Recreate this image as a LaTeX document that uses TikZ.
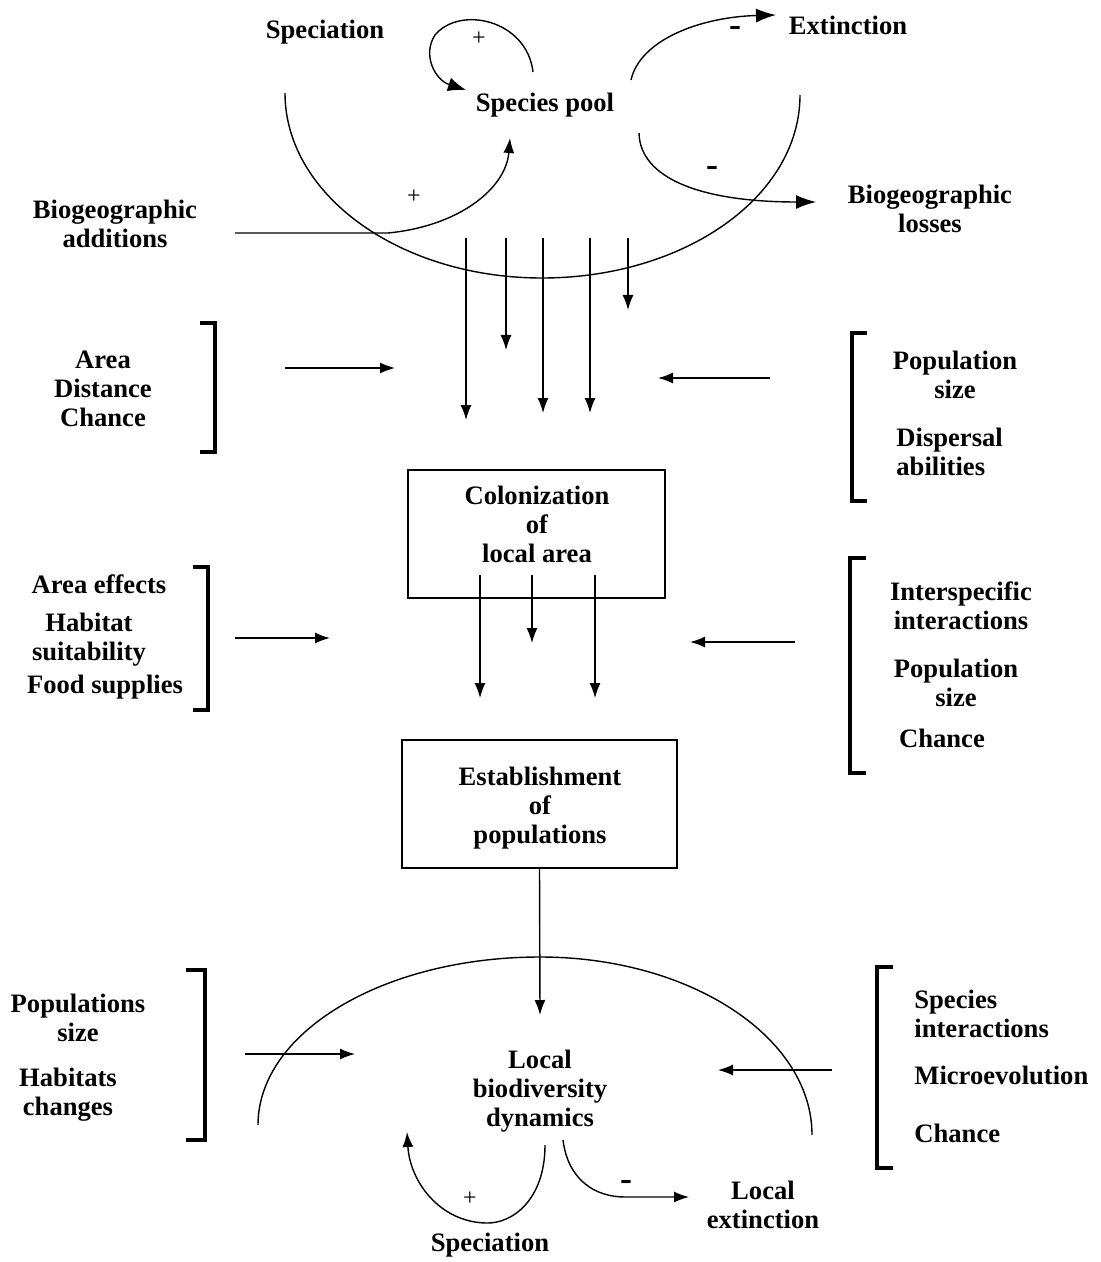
\documentclass[tikz,border=0pt]{standalone}
\usepackage{fontspec}
\setmainfont{Liberation Serif}
\usetikzlibrary{arrows.meta}

\begin{document}
\begin{tikzpicture}[x=0.5pt, y=-0.5pt, >={Latex[length=7.5pt, width=5.5pt]},
  lbl/.style={font=\bfseries\fontsize{13.3}{14.5}\selectfont, align=center, inner sep=0pt},
  sgn/.style={font=\fontsize{12}{12}\selectfont, inner sep=0pt},
  neg/.style={font=\bfseries\fontsize{18}{18}\selectfont, inner sep=0pt},
  brk/.style={line width=1.6pt},
  box/.style={draw, line width=0.8pt, inner sep=0pt},
  flow/.style={line width=0.7pt},
  bigtip/.style={-{Latex[length=10pt, width=7pt]}}]

\useasboundingbox (0,0) rectangle (1100,1262);

% ============================================================
% Regional species pool
% ============================================================
\node[lbl] (spec) at (325,32) {Speciation};
\node[lbl] (pool) at (545,105) {Species pool};
\node[lbl] (ext) at (848,25) {Extinction};
\node[lbl] (badd) at (115,224) {Biogeographic\\additions};
\node[lbl] (bloss) at (930,209) {Biogeographic\\losses};

% Big arc round the pool
\draw[flow] (285,93) .. controls (285,195) and (400,278) .. (542,278)
  .. controls (684,278) and (800,197) .. (800,95);

% Speciation loop (+)
\draw[flow, -{Latex[length=9pt, width=7pt]}] (533,72) .. controls (527,20) and (460,5) .. (435,35)
  .. controls (422,55) and (435,80) .. (466,90);
\node[sgn] (p1) at (479,39) {+};

% Extinction (-)
\draw[flow, bigtip] (631,80) .. controls (640,40) and (700,17) .. (776,15);
\node[neg] (m1) at (735,32) {-};

% Biogeographic losses (-)
\draw[flow, bigtip] (639,133) .. controls (640,178) and (700,202) .. (816,202);
\node[neg] (m2) at (712,172) {-};

% Biogeographic additions (+)
\draw[flow, ->] (235,233) -- (388,233) .. controls (460,226) and (506,188) .. (510,138);
\node[sgn] (p2) at (414,197) {+};

% Flows down from the pool
\foreach \x/\y in {466/420, 506/350, 543/413, 590/413, 628/310} {
  \draw[flow, ->] (\x,238) -- (\x,\y);
}

% ============================================================
% Colonization
% ============================================================
\node[lbl] (adc) at (103,389) {Area\\Distance\\Chance};
\draw[brk] (200,323) -- (215,323) -- (215,452) -- (200,452);
\draw[flow, ->] (285,368) -- (395,368);

\node[lbl] (popsz1) at (955,375) {Population\\size};
\node[lbl, align=left, anchor=west] (disp) at (896,452) {Dispersal\\abilities};
\draw[brk] (867,333) -- (852,333) -- (852,501) -- (867,501);
\draw[flow, ->] (770,378) -- (658,378);

\node[box, minimum width=128.5pt, minimum height=64pt] (colbox) at (536.5,534) {};
\node[lbl] (col) at (537,524) {Colonization\\of\\local area};

\foreach \x/\y in {480/698, 532/643, 595/698} {
  \draw[flow, ->] (\x,575) -- (\x,\y);
}

% ============================================================
% Establishment
% ============================================================
\node[lbl] (areff) at (99,584) {Area effects};
\node[lbl] (habsu) at (89,640) {Habitat\\suitability};
\node[lbl] (food) at (105,687) {Food supplies};
\draw[brk] (193,567) -- (208,567) -- (208,710) -- (193,710);
\draw[flow, ->] (235,638) -- (330,638);

\node[lbl] (inter) at (961,606) {Interspecific\\interactions};
\node[lbl] (popsz2) at (956,683) {Population\\size};
\node[lbl] (chance1) at (942,738) {Chance};
\draw[brk] (866,558) -- (850,558) -- (850,773) -- (866,773);
\draw[flow, ->] (795,642) -- (690,642);

\node[box, minimum width=137.5pt, minimum height=64pt] (estbox) at (539.5,804) {};
\node[lbl] (est) at (540,808) {Establishment\\of\\populations};

% ============================================================
% Local biodiversity dynamics
% ============================================================
\node[lbl] (dyn) at (540,1091) {Local\\biodiversity\\dynamics};
\coordinate (dynin) at (540,1015);
\draw[flow, ->] (estbox.south) -- (dynin);

% Big arc round the local community
\draw[flow] (258,1125) .. controls (258,1032) and (384,957) .. (540,957)
  .. controls (690,957) and (812,1037) .. (812,1135);

\node[lbl] (popsz3) at (78,1018) {Populations\\size};
\node[lbl] (habch) at (68,1095) {Habitats\\changes};
\draw[brk] (186,970) -- (205,970) -- (205,1140) -- (186,1140);
\draw[flow, ->] (245,1054) -- (355,1054);

\node[lbl, align=left, anchor=west] (spint) at (914,1014) {Species\\interactions};
\node[lbl, anchor=west] (micro) at (914,1075) {Microevolution};
\node[lbl, anchor=west] (chance2) at (914,1133) {Chance};
\draw[brk] (893,967) -- (877,967) -- (877,1168) -- (893,1168);
\draw[flow, ->] (832,1070) -- (718,1070);

% Local speciation loop (+)
\node[lbl] (spec2) at (490,1245) {Speciation};
\draw[flow, ->] (545,1145) .. controls (545,1200) and (512,1224) .. (486,1223)
  .. controls (440,1222) and (410,1182) .. (407,1132);
\node[sgn] (p3) at (470,1199) {+};

% Local extinction (-)
\node[lbl] (lext) at (763,1205) {Local\\extinction};
\draw[flow, ->] (563,1140) .. controls (568,1180) and (595,1197) .. (625,1197) -- (689,1197);
\node[neg] (m3) at (626,1185) {-};

\end{tikzpicture}
\end{document}
